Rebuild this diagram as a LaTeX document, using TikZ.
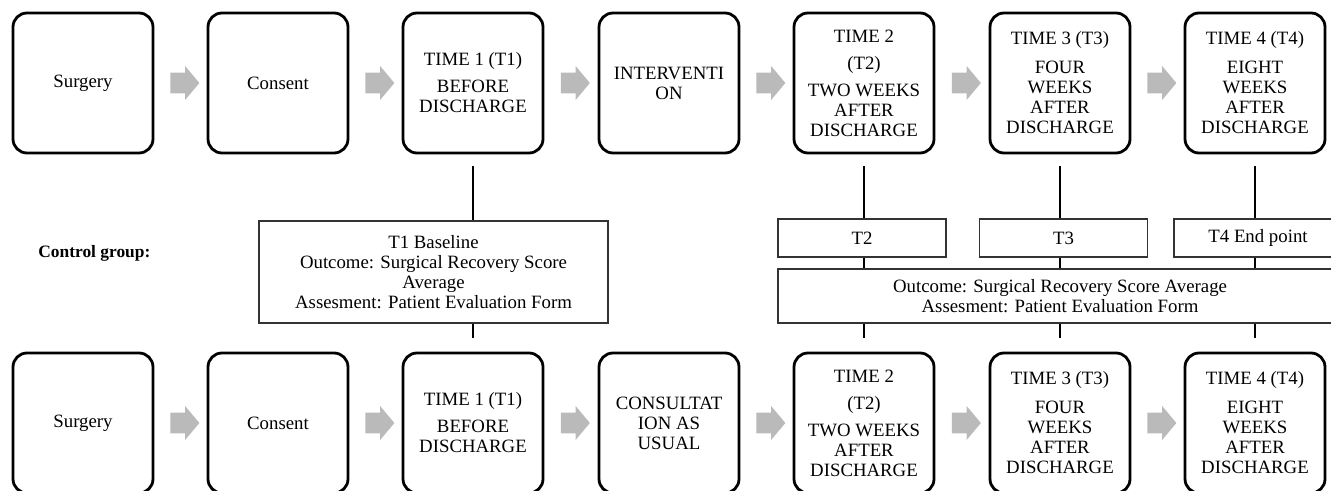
\documentclass[tikz,border=0pt]{standalone}
\usepackage{fontspec}
\setmainfont{Liberation Serif}
\usetikzlibrary{shapes.arrows,calc}

\begin{document}
\begin{tikzpicture}[x=0.5pt,y=-0.5pt,
    stage/.style={draw, line width=1.4pt, rounded corners=7pt, minimum width=70pt,
        minimum height=70pt, inner sep=1pt, align=center, font=\fontsize{9.4}{10}\selectfont},
    note/.style={draw=black!80, line width=0.6pt, inner sep=0pt, align=center,
        font=\fontsize{9.4}{10}\selectfont},
    flow/.style={single arrow, fill=black!27, draw=none, text height=10pt, text depth=0pt,
        single arrow head extend=3.25pt, single arrow tip angle=100,
        minimum height=14.5pt, inner sep=0pt},
    link/.style={line width=0.9pt}]
    \useasboundingbox (0,0) rectangle (1331,491);
    \clip (0,0) rectangle (1331,491);
    % Fila superior: grupo de intervención
    \node[stage] (s1) at (83,83) {Surgery};
    \node[stage] (s2) at (278,83) {Consent};
    \node[stage] (s3) at (473,83) {TIME 1 (T1)\\[3.5pt] BEFORE\\ DISCHARGE};
    \node[stage] (s4) at (669,83) {INTERVENTI\\ ON};
    \node[stage] (s5) at (864,83) {TIME 2\\[3.5pt] (T2)\\[3.5pt] TWO WEEKS\\ AFTER\\ DISCHARGE};
    \node[stage] (s6) at (1060,83) {TIME 3 (T3)\\[4.5pt] FOUR\\ WEEKS\\ AFTER\\ DISCHARGE};
    \node[stage] (s7) at (1255,83) {TIME 4 (T4)\\[4.5pt] EIGHT\\ WEEKS\\ AFTER\\ DISCHARGE};
    % Fila inferior: grupo control
    \node[stage] (c1) at (83,423) {Surgery};
    \node[stage] (c2) at (278,423) {Consent};
    \node[stage] (c3) at (473,423) {TIME 1 (T1)\\[3.5pt] BEFORE\\ DISCHARGE};
    \node[stage] (c4) at (669,423) {CONSULTAT\\ ION AS\\ USUAL};
    \node[stage] (c5) at (864,423) {TIME 2\\[3.5pt] (T2)\\[3.5pt] TWO WEEKS\\ AFTER\\ DISCHARGE};
    \node[stage] (c6) at (1060,423) {TIME 3 (T3)\\[4.5pt] FOUR\\ WEEKS\\ AFTER\\ DISCHARGE};
    \node[stage] (c7) at (1255,423) {TIME 4 (T4)\\[4.5pt] EIGHT\\ WEEKS\\ AFTER\\ DISCHARGE};
    \foreach \a/\b in {1/2,2/3,3/4,4/5,5/6,6/7} {
        \node[flow] (fs\a) at ($(s\a.east)!0.5!(s\b.west)$) {};
        \node[flow] (fc\a) at ($(c\a.east)!0.5!(c\b.west)$) {};
    }
    % Mediciones
    \node[anchor=west, inner sep=0pt, font=\bfseries\fontsize{8.7}{10}\selectfont] (ctrl) at (38,253) {Control group:};
    \node[note, minimum width=174.5pt, minimum height=51pt] (base) at (433.5,272)
        {T1 Baseline\\ Outcome: Surgical Recovery Score\\ Average\\ Assesment: Patient Evaluation Form};
    \node[note, minimum width=84pt, minimum height=19pt] (t2) at (862,238) {T2};
    \node[note, minimum width=84pt, minimum height=19pt] (t3) at (1063.5,238) {T3};
    \node[note, minimum width=84pt, minimum height=19pt] (t4) at (1258,238) {T4 End point};
    \node[note, minimum width=282pt, minimum height=27pt] (outc) at (1060,296)
        {Outcome: Surgical Recovery Score Average\\ Assesment: Patient Evaluation Form};
    \draw[link, shorten <=6pt] (s3.south) -- (s3.south |- base.north);
    \draw[link, shorten >=7pt] (s3.south |- base.south) -- (c3.north);
    \foreach \i/\t in {5/t2,6/t3,7/t4} {
        \draw[link, shorten <=6pt] (s\i.south) -- (s\i.south |- \t.north);
        \draw[link] (s\i.south |- \t.south) -- (s\i.south |- outc.north);
        \draw[link, shorten >=7pt] (s\i.south |- outc.south) -- (c\i.north);
    }
\end{tikzpicture}
\end{document}
